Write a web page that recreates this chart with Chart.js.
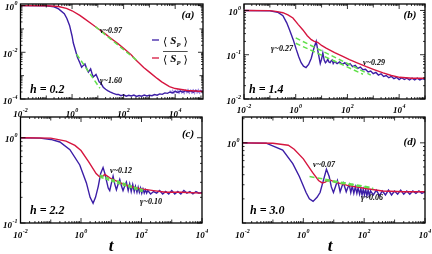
<!DOCTYPE html>
<html>
<head>
<meta charset="utf-8">
<script src="https://cdn.jsdelivr.net/npm/chart.js@4.4.1/dist/chart.umd.min.js"></script>
<style>
html, body { margin: 0; padding: 0; background: #fff; }
#wrap { position: relative; width: 432px; height: 254px; }
#wrap canvas { position: absolute; left: 0; top: 0; }
</style>
</head>
<body>
<div id="wrap">
  <canvas id="ca" width="432" height="254"></canvas>
  <canvas id="cb" width="432" height="254"></canvas>
  <canvas id="cc" width="432" height="254"></canvas>
  <canvas id="cd" width="432" height="254"></canvas>
</div>
<script>
// ---- panel (a), h = 0.2 ----
var tRedA = [0.01, 0.1, 0.3, 0.6, 1, 2, 3, 6, 10, 20, 30, 60, 100, 200, 300, 600, 1000, 2000, 3000, 6000, 10000, 30000, 120000];
var redA = [1, 0.99, 0.91, 0.76, 0.60, 0.38, 0.275, 0.158, 0.105, 0.060, 0.042, 0.0234, 0.0148, 0.0076, 0.0047, 0.00224, 0.00141, 0.00076, 0.00054, 0.00034, 0.00028, 0.00023, 0.00021];
var tBlueA = [0.01, 0.1, 0.2, 0.3, 0.5, 0.63, 0.8, 1, 1.12, 1.3, 1.6, 2.0, 2.35, 2.75, 3.16, 3.7, 4.3, 5.25, 5.9, 6.6,
  8.5, 10, 11.2, 13.2, 16.2, 20, 24, 29.5, 40, 54,
  63, 79, 100, 126, 158, 200, 251, 316, 398, 501, 631, 794, 1000, 1259, 1585, 1995, 2512, 3162, 3981,
  5012, 6310, 7943, 10000, 12589, 15849, 19953, 25119, 31623, 39811, 50119, 63096, 79433, 100000, 120000];
var blueA = [1, 0.98, 0.89, 0.72, 0.45, 0.28, 0.141, 0.050, 0.025, 0.0141, 0.0063, 0.00355, 0.00229, 0.00275, 0.00316, 0.0020, 0.00141, 0.00195, 0.00126, 0.00087,
  0.00112, 0.00076, 0.00054, 0.00047, 0.00032, 0.00026, 0.00023, 0.000204, 0.000174, 0.000155,
  1.58e-4, 1.38e-4, 1.51e-4, 1.32e-4, 1.45e-4, 1.35e-4, 1.48e-4, 1.29e-4, 1.41e-4, 1.32e-4,
  1.48e-4, 1.35e-4, 1.45e-4, 1.38e-4, 1.55e-4, 1.45e-4, 1.66e-4, 1.58e-4, 1.82e-4, 1.74e-4,
  2.0e-4, 1.82e-4, 2.14e-4, 1.91e-4, 2.19e-4, 1.95e-4, 2.29e-4, 2.0e-4, 2.24e-4, 1.95e-4,
  2.29e-4, 2.04e-4, 2.19e-4, 2.09e-4];
var tFuzzA = [6310, 7079, 7943, 8913, 10000, 11220, 12589, 14125, 15849, 17783, 19953, 22387, 25119, 28184, 31623, 35481, 39811, 44668, 50119, 56234, 63096, 70795, 79433, 89125, 100000, 112202, 120000];
var fuzzA = [2.40e-4, 1.74e-4, 2.51e-4, 1.66e-4, 2.34e-4, 1.78e-4, 2.63e-4, 1.62e-4, 2.45e-4, 1.70e-4, 2.69e-4, 1.58e-4, 2.51e-4, 1.74e-4, 2.75e-4, 1.62e-4, 2.57e-4, 1.66e-4, 2.69e-4, 1.58e-4, 2.63e-4, 1.70e-4, 2.75e-4, 1.62e-4, 2.51e-4, 1.74e-4, 2.40e-4];
var tNuA = [8, 370], nuA = [0.126, 0.0040];
var tGamA = [1.5, 12], gamA = [0.0083, 0.00029];

// ---- panel (b), h = 1.4 ----
var tRedB = [0.01, 0.1, 0.17, 0.32, 0.5, 0.78, 1.26, 1.9, 2.8, 4, 5.2, 7.1, 10, 15, 32, 63, 120, 250, 540, 1000, 2400, 5000, 10500, 31600, 120000];
var redB = [1, 0.99, 0.955, 0.891, 0.794, 0.676, 0.479, 0.363, 0.269, 0.219, 0.200, 0.191, 0.162, 0.141, 0.112, 0.0933, 0.0776, 0.0646, 0.0537, 0.0468, 0.0389, 0.0339, 0.0309, 0.0295, 0.0295];
var tBlueB = [0.01, 0.1, 0.2, 0.32, 0.45, 0.58, 0.8, 1.05, 1.32, 1.62, 2.0, 2.5, 3.16, 4.0, 5.0, 6.2, 7.4, 8.9, 10, 11.2,
  12.6, 14.1, 15.8, 17.4, 19.5, 21.4, 23.4, 25.7, 28.2,
  31.6, 39.8, 50.1, 63.1, 79.4, 100, 126, 158, 200, 251, 316, 398, 501, 631, 794, 1000, 1259, 1585, 1995, 2512,
  3162, 3981, 5012, 6310, 7943, 10000, 12589, 15849, 19953, 25119, 31623, 39811, 50119, 63096, 79433, 100000, 120000];
var blueB = [1, 0.977, 0.912, 0.759, 0.525, 0.363, 0.219, 0.132, 0.0891, 0.0661, 0.0550, 0.0513, 0.0603, 0.0832, 0.138, 0.200, 0.112, 0.0631, 0.0794, 0.110,
  0.0759, 0.0661, 0.0708, 0.0794, 0.0676, 0.0661, 0.0724, 0.0759, 0.0631,
  0.0708, 0.0631, 0.0692, 0.0603, 0.0661, 0.0575, 0.0631, 0.0537, 0.0575, 0.0490,
  0.0525, 0.0457, 0.0468, 0.0407, 0.0427, 0.0372, 0.0398, 0.0347, 0.0372, 0.0324,
  0.0339, 0.0302, 0.0324, 0.0288, 0.0309, 0.0275, 0.0302, 0.0275, 0.0295, 0.0269,
  0.0295, 0.0269, 0.0295, 0.0269, 0.0288, 0.0275, 0.0282];
var tNuB = [1, 800], nuB = [0.240, 0.0347];
var tGamB = [1, 400], gamB = [0.182, 0.0363];

// ---- panel (c), h = 2.2 ----
var tRedC = [0.01, 0.1, 0.32, 0.63, 1, 1.78, 3.16, 4.17, 5.25, 6.17, 8.9, 20, 40, 100, 251, 631, 2000, 10000];
var redC = [1, 0.99, 0.912, 0.813, 0.708, 0.525, 0.380, 0.347, 0.355, 0.372, 0.339, 0.295, 0.269, 0.251, 0.240, 0.229, 0.229, 0.224];
var tBlueC = [0.01, 0.044, 0.1, 0.2, 0.43, 0.91, 1.51, 2.0, 2.51, 3.02, 3.72, 4.47, 5.37, 6.17, 6.92, 7.94, 8.91, 10, 11.5, 13.2,
  14.8, 17.0, 19.1, 21.9, 24.5, 28.2, 31.6, 36.3, 40.7, 45.7, 51.3, 57.5, 63.1, 70.8, 77.6, 85.1, 93.3, 102, 112, 123,
  135, 148, 162,
  200, 251, 316, 398, 501, 631, 794, 1000, 1259, 1585, 1995, 2512, 3162, 3981, 5012, 6310, 7943, 10000];
var blueC = [1, 0.989, 0.955, 0.891, 0.724, 0.479, 0.295, 0.200, 0.170, 0.200, 0.269, 0.380, 0.447, 0.380, 0.316, 0.257, 0.240, 0.288, 0.355, 0.282,
  0.245, 0.288, 0.324, 0.269, 0.240, 0.275, 0.302, 0.240, 0.288, 0.234, 0.282, 0.234, 0.269, 0.229, 0.263, 0.229, 0.257, 0.224, 0.251, 0.224,
  0.245, 0.224, 0.240,
  0.219, 0.234, 0.224, 0.240, 0.219, 0.234, 0.219, 0.240, 0.219, 0.234, 0.219, 0.240, 0.224, 0.234, 0.219, 0.234, 0.224, 0.229];
var tNuC = [4.17, 126], nuC = [0.363, 0.240];
var tGamC = [4.17, 110], gamC = [0.347, 0.234];

// ---- panel (d), h = 3.0 ----
var tRedD = [0.01, 0.1, 0.32, 0.5, 1, 2, 3.16, 4.17, 5.25, 7.08, 11.2, 28.2, 112, 398, 2000, 10000];
var redD = [1, 0.989, 0.933, 0.832, 0.631, 0.427, 0.339, 0.316, 0.324, 0.347, 0.324, 0.295, 0.269, 0.251, 0.245, 0.245];
var tBlueD = [0.01, 0.06, 0.21, 0.45, 0.74, 1.23, 1.58, 2.09, 2.82, 3.55, 4.47, 5.75, 7.08, 8.32, 9.77, 11.5, 13.2, 14.8, 16.2, 18.6,
  20.9, 23.4, 25.7, 28.8, 32.4, 36.3, 40.7, 45.7, 51.3, 57.5, 63.1, 70.8, 77.6, 85.1, 93.3, 102, 112, 123, 135, 148,
  162,
  200, 251, 316, 398, 501, 631, 794, 1000, 1259, 1585, 1995, 2512, 3162, 3981, 5012, 6310, 7943, 10000];
var blueD = [1, 0.989, 0.813, 0.550, 0.380, 0.240, 0.200, 0.186, 0.209, 0.240, 0.331, 0.468, 0.380, 0.282, 0.240, 0.288, 0.339, 0.288, 0.245, 0.288,
  0.316, 0.275, 0.245, 0.275, 0.302, 0.240, 0.288, 0.234, 0.282, 0.234, 0.275, 0.229, 0.269, 0.224, 0.263, 0.224, 0.263, 0.219, 0.257, 0.219,
  0.251,
  0.224, 0.257, 0.219, 0.251, 0.224, 0.257, 0.224, 0.251, 0.229, 0.257, 0.229, 0.251, 0.229, 0.251, 0.234, 0.251, 0.234, 0.245];
var tNuD = [1.6, 190], nuD = [0.380, 0.275];
var tGamD = [5, 200], gamD = [0.339, 0.269];

var BLUE = "#3c1ea6", RED = "#d6163f", GREEN = "#62e04c", FUZZ = "rgba(150,125,225,0.75)";
var SERIF = "'Liberation Serif', 'DejaVu Serif', serif";

function pts(t, v) {
  return t.map(function (x, i) { return { x: x, y: v[i] }; });
}

function line(t, v, color, w, dash) {
  return {
    data: pts(t, v), borderColor: color, borderWidth: w, borderDash: dash || [],
    pointRadius: 0, fill: false, tension: 0
  };
}

// "10" with a raised exponent
function pow10(ctx, e, x, y, align) {
  var es = e < 0 ? "-" + (-e) : "" + e;
  ctx.font = "italic bold 9px " + SERIF;
  var w1 = ctx.measureText("10").width;
  ctx.font = "italic bold 6px " + SERIF;
  var w2 = ctx.measureText(es).width;
  var x0 = align == "right" ? x - w1 - w2 - 0.5 : x - (w1 + w2 + 0.5) / 2;
  ctx.textAlign = "left";
  ctx.font = "italic bold 9px " + SERIF;
  ctx.fillText("10", x0, y);
  ctx.font = "italic bold 6px " + SERIF;
  ctx.fillText(es, x0 + w1 + 0.5, y - 5);
}

function drawTicks(ctx, sc, a, horiz, labs) {
  var lo = Math.floor(Math.log10(sc.min) + 1e-9), hi = Math.ceil(Math.log10(sc.max));
  ctx.beginPath();
  for (var n = lo; n <= hi; n++) {
    for (var k = 1; k < 10; k++) {
      var v = k * Math.pow(10, n);
      if (v < sc.min * 0.9999 || v > sc.max * 1.0001) continue;
      var p = sc.getPixelForValue(v);
      var len = k == 1 ? (labs.indexOf(n) >= 0 ? 5 : 3.5) : 2;
      if (horiz) {
        ctx.moveTo(p, a.bottom); ctx.lineTo(p, a.bottom - len);
        ctx.moveTo(p, a.top); ctx.lineTo(p, a.top + len);
      } else {
        ctx.moveTo(a.left, p); ctx.lineTo(a.left + len, p);
        ctx.moveTo(a.right, p); ctx.lineTo(a.right - len, p);
      }
    }
  }
  ctx.stroke();
}

function legendEntry(ctx, x, y, color, bar) {
  ctx.strokeStyle = color; ctx.lineWidth = 1.3;
  ctx.beginPath(); ctx.moveTo(x, y - 4); ctx.lineTo(x + 7, y - 4); ctx.stroke();
  ctx.fillStyle = "#000";
  var cx = x + 11;
  ctx.font = "11px 'DejaVu Serif', serif";
  ctx.fillText("\u27E8", cx, y + 1);
  cx += ctx.measureText("\u27E8").width + 3;
  ctx.font = "italic bold 11px " + SERIF;
  ctx.fillText("S", cx, y);
  cx += ctx.measureText("S").width;
  ctx.font = "italic bold 6.5px " + SERIF;
  ctx.fillText("P", cx, y + 2.5);
  cx += ctx.measureText("P").width + 3;
  ctx.font = "11px 'DejaVu Serif', serif";
  ctx.fillText("\u27E9", cx, y + 1);
  cx += ctx.measureText("\u27E9").width;
  if (bar) {
    ctx.strokeStyle = "#000"; ctx.lineWidth = 0.7;
    ctx.beginPath(); ctx.moveTo(x + 11, y - 10.5); ctx.lineTo(cx, y - 10.5); ctx.stroke();
  }
}

var framePlugin = {
  id: "frame",
  afterDatasetsDraw: function (chart, args, o) {
    var ctx = chart.ctx, a = chart.chartArea;
    var xs = chart.scales.x, ys = chart.scales.y;
    ctx.save();
    ctx.strokeStyle = "#000";
    ctx.lineWidth = 0.8;
    drawTicks(ctx, xs, a, true, o.xLab);
    drawTicks(ctx, ys, a, false, o.yLab);
    ctx.lineWidth = 1.3;
    ctx.strokeRect(a.left, a.top, a.right - a.left, a.bottom - a.top);
    ctx.fillStyle = "#000";
    ctx.textBaseline = "alphabetic";
    o.xLab.forEach(function (n) { pow10(ctx, n, xs.getPixelForValue(Math.pow(10, n)), o.xLabY, "center"); });
    o.yLab.forEach(function (n) { pow10(ctx, n, a.left - 3, ys.getPixelForValue(Math.pow(10, n)) + 4.5, "right"); });
    o.texts.forEach(function (s) {
      ctx.font = "italic bold " + s[3] + "px " + SERIF;
      ctx.textAlign = s[4] || "left";
      ctx.fillText(s[0], s[1], s[2]);
    });
    ctx.textAlign = "left";
    if (o.legend) {
      legendEntry(ctx, 152, 44, BLUE, false);
      legendEntry(ctx, 152, 62, RED, true);
    }
    ctx.restore();
  }
};

var panels = [
  { id: "ca", area: [20.5, 4, 203, 99], xr: [0.01, 120000], yr: [1e-4, 1.17],
    xLab: [-2, 0, 2, 4], yLab: [0, -2, -4], xLabY: 117, legend: true,
    sets: [line(tNuA, nuA, GREEN, 1.5, [5, 3]), line(tGamA, gamA, GREEN, 1.5, [5, 3]),
           line(tRedA, redA, RED, 1.4), line(tBlueA, blueA, BLUE, 1.4), line(tFuzzA, fuzzA, FUZZ, 1)],
    texts: [["(a)", 188, 18, 11, "center"], ["\u03BD~0.97", 100, 33, 8], ["\u03B3~1.60", 100, 83, 8], ["h = 0.2", 30, 93, 12]] },
  { id: "cb", area: [244, 4, 425, 99], xr: [0.01, 100000], yr: [0.01, 1.4],
    xLab: [-2, 0, 2, 4], yLab: [0, -1, -2], xLabY: 113,
    sets: [line(tNuB, nuB, GREEN, 1.5, [5, 3]), line(tGamB, gamB, GREEN, 1.5, [5, 3]),
           line(tRedB, redB, RED, 1.4), line(tBlueB, blueB, BLUE, 1.4)],
    texts: [["(b)", 410, 18, 11, "center"], ["\u03B3~0.27", 271, 51, 8], ["\u03BD~0.29", 363, 65, 8], ["h = 1.4", 249, 93, 12]] },
  { id: "cc", area: [20.5, 117, 202, 223], xr: [0.01, 10000], yr: [0.1, 1.75],
    xLab: [-2, 0, 2, 4], yLab: [0, -1], xLabY: 238,
    sets: [line(tNuC, nuC, GREEN, 1.6, [4, 2]), line(tGamC, gamC, GREEN, 1.6, [4, 2]),
           line(tRedC, redC, RED, 1.4), line(tBlueC, blueC, BLUE, 1.4)],
    texts: [["(c)", 188, 137, 11, "center"], ["\u03BD~0.12", 110, 173, 8], ["\u03B3~0.10", 140, 204, 8], ["h = 2.2", 30, 214, 12], ["t", 111, 251, 17, "center"]] },
  { id: "cd", area: [242.5, 117, 425, 223], xr: [0.01, 10000], yr: [0.1, 2.1],
    xLab: [-2, 0, 2, 4], yLab: [0], xLabY: 238,
    sets: [line(tNuD, nuD, GREEN, 1.5, [5, 3]), line(tGamD, gamD, GREEN, 1.5, [5, 3]),
           line(tRedD, redD, RED, 1.4), line(tBlueD, blueD, BLUE, 1.4)],
    texts: [["(d)", 410, 145, 11, "center"], ["\u03BD~0.07", 313, 167, 8], ["\u03B3~0.06", 361, 200, 8], ["h = 3.0", 250, 214, 12], ["t", 330, 251, 17, "center"]] }
];

panels.forEach(function (p) {
  new Chart(p.id, {
    type: "line",
    data: { datasets: p.sets },
    options: {
      responsive: false,
      animation: false,
      layout: { padding: { left: p.area[0], top: p.area[1], right: 432 - p.area[2], bottom: 254 - p.area[3] } },
      scales: {
        x: { type: "logarithmic", min: p.xr[0], max: p.xr[1], display: false },
        y: { type: "logarithmic", min: p.yr[0], max: p.yr[1], display: false }
      },
      plugins: {
        legend: { display: false },
        tooltip: { enabled: false },
        frame: { xLab: p.xLab, yLab: p.yLab, xLabY: p.xLabY, texts: p.texts, legend: p.legend }
      }
    },
    plugins: [framePlugin]
  });
});
</script>
</body>
</html>
